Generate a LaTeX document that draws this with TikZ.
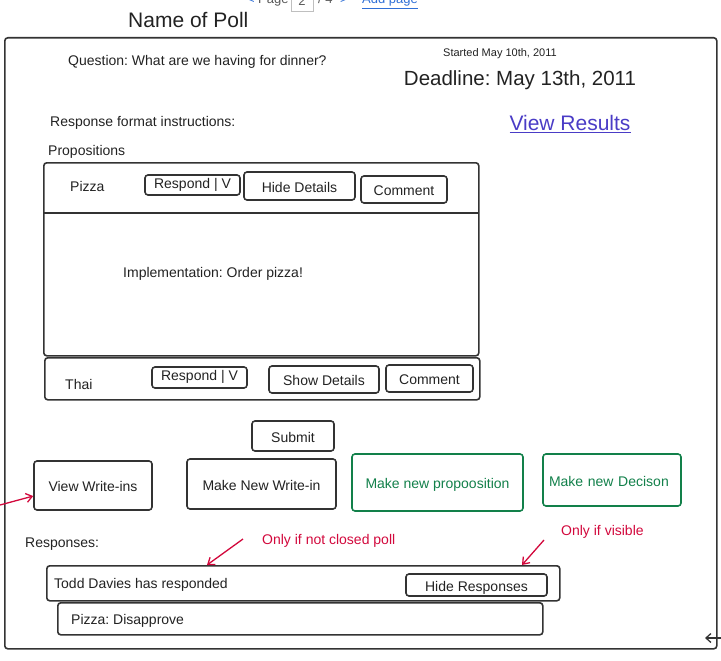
\documentclass[tikz,border=0pt]{standalone}
\usepackage{fontspec}
\setmainfont{Liberation Sans}
\usepackage{tkz-euclide}
\usetikzlibrary{arrows.meta}
\frenchspacing
\definecolor{ink}{HTML}{333333}
\definecolor{txt}{HTML}{222222}
\definecolor{okgreen}{HTML}{12804A}
\definecolor{notered}{HTML}{D2083C}
\definecolor{linkblue}{HTML}{4A3CC6}
\definecolor{navblue}{HTML}{2F6FD6}
\tikzset{
  btn/.style={draw=ink, line width=1.6pt, rounded corners=3pt, inner sep=0pt,
    text height=12pt, text depth=0pt, font=\fontsize{14}{16}\selectfont, text=txt},
  rbtn/.style={btn, text height=9pt, text depth=3pt},
  gbtn/.style={btn, draw=okgreen, text=okgreen},
  pane/.style={draw=ink, line width=1.6pt, rounded corners=3pt, inner sep=0pt,
    anchor=north west},
  lbl/.style={inner sep=0pt, anchor=base west, yshift=-5pt, font=\fontsize{14}{16}\selectfont, text=txt},
  note/.style={lbl, text=notered},
  big/.style={inner sep=0pt, anchor=base, yshift=-7.3pt, font=\fontsize{20.5}{24}\selectfont, text=txt},
  nav/.style={inner sep=0pt, anchor=base west, font=\fontsize{13}{15}\selectfont},
  noteline/.style={draw=notered, line width=1.3pt, -{Straight Barb[length=6pt,width=9pt]}}
}
\begin{document}
\begin{tikzpicture}[x=1pt,y=-1pt]
    \useasboundingbox (0,0) rectangle (721,661);
    \tkzDefPoints{0/505/W, 243/539/N, 544/540/S, 721/638/E, 705/638/F}
    \node[inner sep=0pt, anchor=west, text=txt, font=\fontsize{21}{24}\selectfont] (title) at (128,20) {Name of Poll};
    \node[nav, text=navblue] (prev) at (247,4) {<};
    \node[nav, text=black!65] (page) at (258,4) {Page};
    \node[draw=black!25, line width=0.8pt, minimum width=22pt, minimum height=20pt,
      inner sep=0pt, font=\fontsize{13}{15}\selectfont, text=black!65] (pagenr) at (302,1) {2};
    \node[nav, text=black!65] (total) at (318,4) {/ 4};
    \node[nav, text=navblue] (next) at (340,4) {>};
    \node[nav, text=navblue] (addpage) at (362,4) {\underline{Add page}};
    \node[pane, minimum width=712pt, minimum height=611pt] (poll) at (4,37) {};
    \node[lbl] (question) at (68,61) {Question: What are we having for dinner?};
    \node[inner sep=0pt, anchor=base, yshift=-4pt, font=\fontsize{11}{13}\selectfont, text=txt] (started) at (500,53) {Started May 10th, 2011};
    \node[big] (deadline) at (520,78) {Deadline: May 13th, 2011};
    \node[big, yshift=-0.4pt, font=\fontsize{21}{24}\selectfont, text=linkblue] (results) at (570,123) {\underline{View Results}};
    \node[lbl] (format) at (50,122) {Response format instructions:};
    \node[lbl] (props) at (48,150) {Propositions};
    % first proposition, details shown
    \node[pane, minimum width=435pt, minimum height=193pt] (pizza) at (43,162) {};
    \draw[ink, line width=1.6pt] (43,213) -- (478,213);
    \node[lbl] (pizzaname) at (70,186) {Pizza};
    \node[rbtn, minimum width=95pt, minimum height=20pt] (pizzaresp) at (192.5,185) {Respond | V};
    \node[btn, minimum width=111pt, minimum height=28pt] (pizzahide) at (299.5,186) {Hide Details};
    \node[btn, minimum width=86pt, minimum height=27pt] (pizzacomm) at (404,189.5) {Comment};
    \node[lbl] (impl) at (123,272) {Implementation: Order pizza!};
    \node[pane, minimum width=435pt, minimum height=42pt] (thai) at (44,357) {};
    \node[lbl] (thainame) at (65,384) {Thai};
    \node[rbtn, minimum width=95pt, minimum height=21pt] (thairesp) at (199.5,377.5) {Respond | V};
    \node[btn, minimum width=110pt, minimum height=27pt] (thaishow) at (324,379.5) {Show Details};
    \node[btn, minimum width=87pt, minimum height=27pt] (thaicomm) at (429.5,378.5) {Comment};
    \node[btn, minimum width=82pt, minimum height=30pt] (submit) at (293,436) {Submit};
    \node[btn, minimum width=118pt, minimum height=49pt] (vwi) at (93,485.5) {View Write-ins};
    \node[btn, minimum width=149pt, minimum height=50pt] (mnwi) at (261.5,484) {Make New Write-in};
    \node[gbtn, minimum width=171pt, minimum height=57pt] (mnp) at (437.5,482.5) {Make new propoosition};
    \node[gbtn, minimum width=138pt, minimum height=52pt, text width=126pt, align=left] (mnd) at (612,480) {Make new Decison};
    \node[lbl] (responses) at (25,542) {Responses:};
    \node[note] (notclosed) at (262,539) {Only if not closed poll};
    \node[note] (visible) at (561,530) {Only if visible};
    \node[pane, minimum width=513pt, minimum height=35pt] (todd) at (46,565) {};
    \node[lbl] (toddtext) at (54,583) {Todd Davies has responded};
    \node[btn, minimum width=141pt, minimum height=22pt] (hideresp) at (476.5,585) {Hide Responses};
    \node[pane, minimum width=485pt, minimum height=32pt] (vote) at (57,602) {};
    \node[lbl] (votetext) at (71,619) {Pizza: Disapprove};
    \draw[noteline] (W) -- (vwi.190);
    \draw[noteline] (N) -- ([xshift=161pt]todd.north west);
    \draw[noteline] (S) -- ([xshift=476pt]todd.north west);
    \draw[ink, line width=1.3pt, -{Straight Barb[length=5pt,width=9pt]}] (E) -- (F);
\end{tikzpicture}
\end{document}
